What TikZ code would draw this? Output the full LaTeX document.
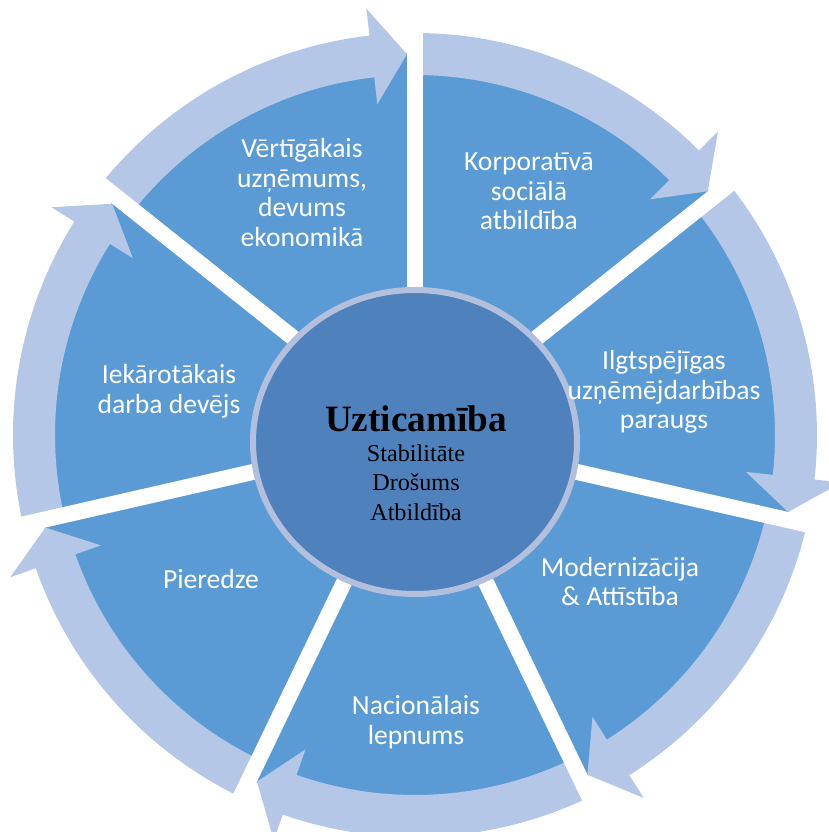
\documentclass[tikz,border=0pt]{standalone}
\usepackage{fontspec}
\setmainfont{Liberation Serif}
\newfontfamily\segfont{Carlito}
\usepackage{tikz}
\usetikzlibrary{positioning}
\definecolor{segblue}{RGB}{91,155,213}
\definecolor{bandblue}{RGB}{180,199,231}
\definecolor{coreblue}{RGB}{79,129,189}
\definecolor{coreline}{RGB}{178,192,222}
\tikzset{
    segpart/.style = {fill=segblue,draw=none},
    bandpart/.style = {fill=bandblue,draw=none},
    gapline/.style = {draw=white,line width=8pt},
    corenode/.style = {fill=coreblue,draw=coreline,line width=3pt},
    seglabel/.style = {align=center,text=white,font=\segfont\fontsize{13.8}{14.8}\selectfont},
    corelabel/.style = {align=center,text=black,font=\fontsize{12.1}{14.6}\selectfont}
}

\begin{document}
\begin{tikzpicture}[x=0.5pt,y=0.5pt]
  \useasboundingbox (-415,-397) rectangle (414,435);
  \clip (-415,-397) rectangle (414,435);
  % segments
  \fill[segpart] (0,0) -- (90:382) arc[start angle=90,end angle=38.571,radius=382] -- cycle;
  \fill[segpart] (0,0) -- (38.571:382) arc[start angle=38.571,end angle=-12.857,radius=382] -- cycle;
  \fill[segpart] (0,0) -- (-12.857:382) arc[start angle=-12.857,end angle=-64.286,radius=382] -- cycle;
  \fill[segpart] (0,0) -- (-64.286:382) arc[start angle=-64.286,end angle=-115.714,radius=382] -- cycle;
  \fill[segpart] (0,0) -- (-115.714:382) arc[start angle=-115.714,end angle=-167.143,radius=382] -- cycle;
  \fill[segpart] (0,0) -- (-167.143:382) arc[start angle=-167.143,end angle=-218.571,radius=382] -- cycle;
  \fill[segpart] (0,0) -- (-218.571:382) arc[start angle=-218.571,end angle=-270,radius=382] -- cycle;
  % arrows
  \fill[bandpart] (90:360) arc[start angle=90,end angle=45.07,radius=360] -- (45.07:333) -- (39.77:381) -- (45.07:429) -- (45.07:402) arc[start angle=45.07,end angle=90,radius=402] -- cycle;
  \fill[bandpart] (38.571:360) arc[start angle=38.571,end angle=-6.36,radius=360] -- (-6.36:333) -- (-11.66:381) -- (-6.36:429) -- (-6.36:402) arc[start angle=-6.36,end angle=38.571,radius=402] -- cycle;
  \fill[bandpart] (-12.857:360) arc[start angle=-12.857,end angle=-57.79,radius=360] -- (-57.79:333) -- (-63.09:381) -- (-57.79:429) -- (-57.79:402) arc[start angle=-57.79,end angle=-12.857,radius=402] -- cycle;
  \fill[bandpart] (-64.286:360) arc[start angle=-64.286,end angle=-109.21,radius=360] -- (-109.21:333) -- (-114.51:381) -- (-109.21:429) -- (-109.21:402) arc[start angle=-109.21,end angle=-64.286,radius=402] -- cycle;
  \fill[bandpart] (-115.714:360) arc[start angle=-115.714,end angle=-160.64,radius=360] -- (-160.64:333) -- (-165.94:381) -- (-160.64:429) -- (-160.64:402) arc[start angle=-160.64,end angle=-115.714,radius=402] -- cycle;
  \fill[bandpart] (-167.143:360) arc[start angle=-167.143,end angle=-212.07,radius=360] -- (-212.07:333) -- (-217.37:381) -- (-212.07:429) -- (-212.07:402) arc[start angle=-212.07,end angle=-167.143,radius=402] -- cycle;
  \fill[bandpart] (-218.571:360) arc[start angle=-218.571,end angle=-263.5,radius=360] -- (-263.5:333) -- (-268.8:381) -- (-263.5:429) -- (-263.5:402) arc[start angle=-263.5,end angle=-218.571,radius=402] -- cycle;
  % gaps
  \draw[gapline] (0,0) -- (90:445);
  \draw[gapline] (0,0) -- (38.571:445);
  \draw[gapline] (0,0) -- (-12.857:445);
  \draw[gapline] (0,0) -- (-64.286:445);
  \draw[gapline] (0,0) -- (-115.714:445);
  \draw[gapline] (0,0) -- (-167.143:445);
  \draw[gapline] (0,0) -- (141.429:445);
  % centre
  \draw[corenode] (0,-7) ellipse[x radius=162,y radius=152];
  \node (core) at (1,-28) [corelabel] {{\fontsize{18.6}{15}\selectfont\bfseries Uzticamība}\\[0.6pt]Stabilitāte\\Drošums\\Atbildība};
  \node (korp) at (114,243.5) [seglabel] {Korporatīvā\\sociālā\\atbildība};
  \node (ilgt) at (249,43) [seglabel] {Ilgtspējīgas\\uzņēmējdarbības\\paraugs};
  \node (mod) at (205,-146.5) [seglabel] {Modernizācija\\\& Attīstība};
  \node (nac) at (1,-287) [seglabel] {Nacionālais\\lepnums};
  \node (pier) at (-204,-144) [seglabel] {Pieredze};
  \node (iek) at (-246,43.5) [seglabel] {Iekārotākais\\darba devējs};
  \node (vert) at (-113,242.5) [seglabel] {Vērtīgākais\\uzņēmums,\\devums\\ekonomikā};
\end{tikzpicture}
\end{document}
